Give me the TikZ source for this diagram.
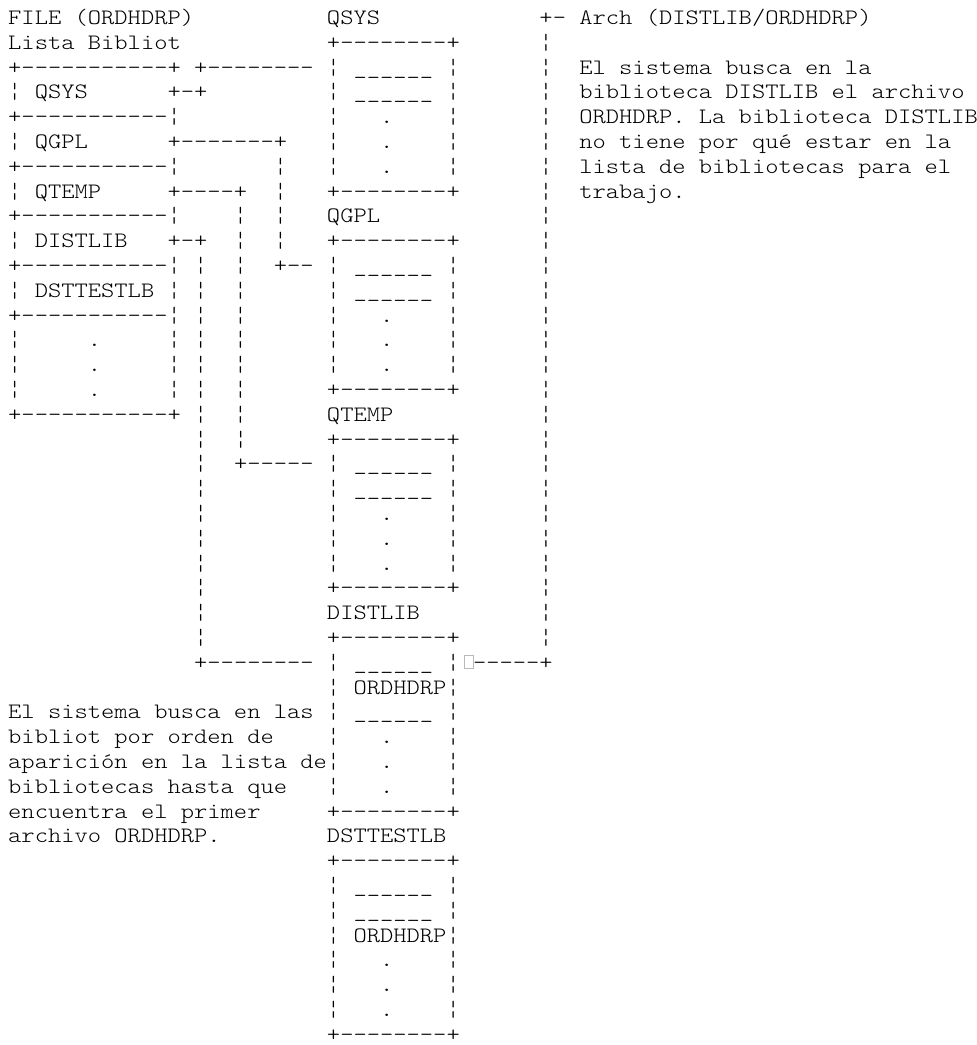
\documentclass[tikz,border=0pt]{standalone}
\usepackage{fontspec}
\setmonofont{lmmonolt10-regular.otf}[FakeStretch=1.15]
\usetikzlibrary{positioning}
\newcommand\gap[1]{\hspace*{#1\fontcharwd\font`\x}}
\newcommand\undr{\_\_\_\_\_\_}

\begin{document}
\begin{tikzpicture}[
    txt/.style={anchor=base west,inner sep=0pt,font=\ttfamily\fontsize{22bp}{24.8bp}\selectfont},
    tofu/.style={draw=gray!55,line width=0.6pt,minimum width=9bp,minimum height=13bp,inner sep=0pt},
]
\useasboundingbox (0,0) rectangle (977bp,-1045bp);
\begin{scope}[shift={(8bp,-24.5bp)},x=13.28bp,y=-24.8bp]
\node[txt] (r0) at (0,0) {FILE (ORDHDRP)\gap{10}QSYS\gap{12}+- Arch (DISTLIB/ORDHDRP)};
\node[txt] (r1) at (0,1) {Lista Bibliot\gap{11}+--------+\gap{6}¦};
\node[txt] (r2) at (0,2) {+-----------+ +-------- ¦ \undr{} ¦\gap{6}¦\gap{2}El sistema busca en la};
\node[txt] (r3) at (0,3) {¦ QSYS\gap{6}+-+\gap{9}¦ \undr{} ¦\gap{6}¦\gap{2}biblioteca DISTLIB el archivo};
\node[txt] (r4) at (0,4) {+-----------¦\gap{11}¦\gap{3}.\gap{4}¦\gap{6}¦\gap{2}ORDHDRP. La biblioteca DISTLIB};
\node[txt] (r5) at (0,5) {¦ QGPL\gap{6}+-------+\gap{3}¦\gap{3}.\gap{4}¦\gap{6}¦\gap{2}no tiene por qué estar en la};
\node[txt] (r6) at (0,6) {+-----------¦\gap{7}¦\gap{3}¦\gap{3}.\gap{4}¦\gap{6}¦\gap{2}lista de bibliotecas para el};
\node[txt] (r7) at (0,7) {¦ QTEMP\gap{5}+----+\gap{2}¦\gap{3}+--------+\gap{6}¦\gap{2}trabajo.};
\node[txt] (r8) at (0,8) {+-----------¦\gap{4}¦\gap{2}¦\gap{3}QGPL\gap{12}¦};
\node[txt] (r9) at (0,9) {¦ DISTLIB\gap{3}+-+\gap{2}¦\gap{2}¦\gap{3}+--------+\gap{6}¦};
\node[txt] (r10) at (0,10) {+-----------¦ ¦\gap{2}¦\gap{2}+-- ¦ \undr{} ¦\gap{6}¦};
\node[txt] (r11) at (0,11) {¦ DSTTESTLB ¦ ¦\gap{2}¦\gap{6}¦ \undr{} ¦\gap{6}¦};
\node[txt] (r12) at (0,12) {+-----------¦ ¦\gap{2}¦\gap{6}¦\gap{3}.\gap{4}¦\gap{6}¦};
\node[txt] (r13) at (0,13) {¦\gap{5}.\gap{5}¦ ¦\gap{2}¦\gap{6}¦\gap{3}.\gap{4}¦\gap{6}¦};
\node[txt] (r14) at (0,14) {¦\gap{5}.\gap{5}¦ ¦\gap{2}¦\gap{6}¦\gap{3}.\gap{4}¦\gap{6}¦};
\node[txt] (r15) at (0,15) {¦\gap{5}.\gap{5}¦ ¦\gap{2}¦\gap{6}+--------+\gap{6}¦};
\node[txt] (r16) at (0,16) {+-----------+ ¦\gap{2}¦\gap{6}QTEMP\gap{11}¦};
\node[txt] (r17) at (0,17) {\gap{14}¦\gap{2}¦\gap{6}+--------+\gap{6}¦};
\node[txt] (r18) at (0,18) {\gap{14}¦\gap{2}+----- ¦ \undr{} ¦\gap{6}¦};
\node[txt] (r19) at (0,19) {\gap{14}¦\gap{9}¦ \undr{} ¦\gap{6}¦};
\node[txt] (r20) at (0,20) {\gap{14}¦\gap{9}¦\gap{3}.\gap{4}¦\gap{6}¦};
\node[txt] (r21) at (0,21) {\gap{14}¦\gap{9}¦\gap{3}.\gap{4}¦\gap{6}¦};
\node[txt] (r22) at (0,22) {\gap{14}¦\gap{9}¦\gap{3}.\gap{4}¦\gap{6}¦};
\node[txt] (r23) at (0,23) {\gap{14}¦\gap{9}+--------+\gap{6}¦};
\node[txt] (r24) at (0,24) {\gap{14}¦\gap{9}DISTLIB\gap{9}¦};
\node[txt] (r25) at (0,25) {\gap{14}¦\gap{9}+--------+\gap{6}¦};
\node[txt] (r26) at (0,26) {\gap{14}+-------- ¦ \undr{} ¦\gap{1}-----+};
\node[tofu] (box) at (34.7,25.7) {};
\node[txt] (r27) at (0,27) {\gap{24}¦ ORDHDRP¦};
\node[txt] (r28) at (0,28) {El sistema busca en las ¦ \undr{} ¦};
\node[txt] (r29) at (0,29) {bibliot por orden de\gap{4}¦\gap{3}.\gap{4}¦};
\node[txt] (r30) at (0,30) {aparición en la lista de¦\gap{3}.\gap{4}¦};
\node[txt] (r31) at (0,31) {bibliotecas hasta que\gap{3}¦\gap{3}.\gap{4}¦};
\node[txt] (r32) at (0,32) {encuentra el primer\gap{5}+--------+};
\node[txt] (r33) at (0,33) {archivo ORDHDRP.\gap{8}DSTTESTLB};
\node[txt] (r34) at (0,34) {\gap{24}+--------+};
\node[txt] (r35) at (0,35) {\gap{24}¦ \undr{} ¦};
\node[txt] (r36) at (0,36) {\gap{24}¦ \undr{} ¦};
\node[txt] (r37) at (0,37) {\gap{24}¦ ORDHDRP¦};
\node[txt] (r38) at (0,38) {\gap{24}¦\gap{3}.\gap{4}¦};
\node[txt] (r39) at (0,39) {\gap{24}¦\gap{3}.\gap{4}¦};
\node[txt] (r40) at (0,40) {\gap{24}¦\gap{3}.\gap{4}¦};
\node[txt] (r41) at (0,41) {\gap{24}+--------+};
\end{scope}
\end{tikzpicture}
\end{document}
